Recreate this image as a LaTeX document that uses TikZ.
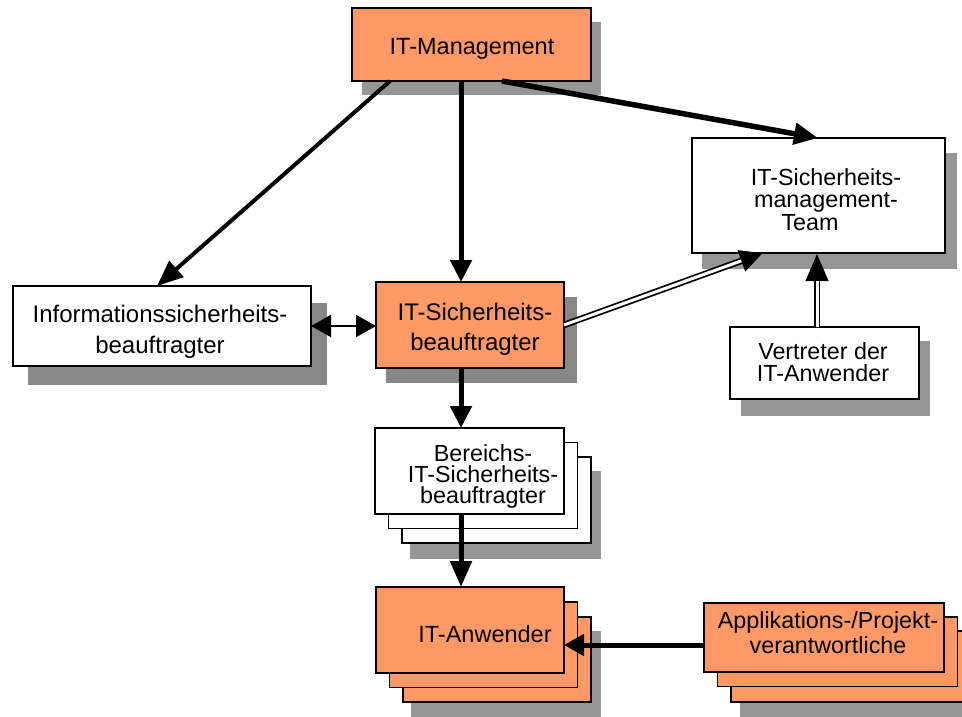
\documentclass[tikz,border=0pt]{standalone}
\usepackage{fontspec}
\setmainfont{Liberation Sans}
\usetikzlibrary{arrows.meta}
\definecolor{boxorange}{HTML}{FF9966}
\definecolor{shade}{HTML}{969696}
\definecolor{shadedark}{HTML}{878787}
% centred multi-line label whose baseline is the first line
\newcommand\boxlines[3]{\parbox[t]{320pt}{\centering\fontsize{#1}{#2}\selectfont #3}}
\tikzset{
  box/.style={draw, line width=1.5pt, inner sep=0pt, outer sep=0pt, fill=white},
  obox/.style={box, fill=boxorange},
  shadowbox/.style={fill=shade},
  txt/.style={anchor=base, inner sep=0pt, font=\fontsize{23.5}{24}\selectfont},
  head/.style={-{Triangle[length=#1,width=21pt]}},
  flow/.style={line width=#1, line cap=butt},
}
\begin{document}
\begin{tikzpicture}[x=1pt,y=-1pt]
\useasboundingbox (0,0) rectangle (962,716);
\clip (0,0) rectangle (962,716);
\fill[white] (0,0) rectangle (962,716);

% drop shadows
\fill[shadowbox] (362,22) rectangle (601,95);
\fill[shadowbox] (702,153) rectangle (957,269);
\fill[shadedark] (28,303) rectangle (327,385);
\fill[shadedark] (386,297) rectangle (577,383);
\fill[shadowbox] (741,341) rectangle (930,416);
\fill[shadowbox] (410,471) rectangle (601,559);
\fill[shadowbox] (411,631) rectangle (601,720);
\fill[shadowbox] (740,645) rectangle (980,718);

% stacked back sheets
\draw[box] (402,457) rectangle (591,543);
\draw[box] (388.5,442.5) rectangle (577.5,528.5);
\draw[obox] (403,617) rectangle (591,702);
\draw[obox] (389.5,602) rectangle (577.5,687.5);
\draw[obox] (731,631) rectangle (971,702);
\draw[obox] (717.5,617) rectangle (957.5,686.5);

% boxes
\node[obox, minimum width=239pt, minimum height=73pt] (mgmt) at (471.5,44.5) {};
\node[box, minimum width=253pt, minimum height=115pt] (team) at (818.5,195.5) {};
\node[box, minimum width=298pt, minimum height=80pt] (info) at (162,326) {};
\node[obox, minimum width=188pt, minimum height=86pt] (its) at (470,325) {};
\node[box, minimum width=189pt, minimum height=72pt] (vert) at (824.5,363) {};
\node[box, minimum width=189pt, minimum height=86pt] (ber) at (469.5,471) {};
\node[obox, minimum width=188pt, minimum height=86pt] (anw) at (470,630) {};
\node[obox, minimum width=240pt, minimum height=69pt] (app) at (824,637.5) {};

% labels
\node[txt] (mgmt-t) at (472,54) {IT-Management};
\node[txt] (team-t) at (826,185) {\boxlines{23.3}{22.5}{IT-Sicherheits-\\management-\\Team\hspace*{32pt}}};
\node[txt] (info-t) at (160,322) {\boxlines{24}{31}{Informationssicherheits-\\beauftragter}};
\node[txt] (its-t) at (475,320) {\boxlines{24}{30}{IT-Sicherheits-\\beauftragter}};
\node[txt] (vert-t) at (823,359) {\boxlines{23.3}{22.5}{Vertreter der\\IT-Anwender}};
\node[txt] (ber-t) at (483,461) {\boxlines{23.3}{21}{Bereichs-\\IT-Sicherheits-\\beauftragter}};
\node[txt] (anw-t) at (485,642) {IT-Anwender};
\node[txt] (app-t) at (828,628) {\boxlines{23.3}{25}{Applikations-/Projekt-\\verantwortliche}};

% reporting lines
\draw[flow=4pt, head=26pt] ([xshift=-81.5pt]mgmt.south) -- ([xshift=-5pt]info.north);
\draw[flow=5pt, head=22pt] ([xshift=-10.5pt]mgmt.south) -- ([xshift=-9pt]its.north);
\draw[flow=5.5pt, head=24pt] ([xshift=30.5pt]mgmt.south) -- ([xshift=-0.5pt]team.north);
\draw[flow=2pt, {Triangle[length=20pt,width=22pt]}-{Triangle[length=20pt,width=22pt]}]
  (info.east) -- (info.east -| its.west);
\draw[flow=5pt, head=22pt] ([xshift=-9pt]its.south) -- ([xshift=-8.5pt]ber.north);
\draw[flow=5pt, head=26pt] ([xshift=-8.5pt]ber.south) -- ([xshift=-9pt]anw.north);
\draw[flow=5pt, head=20pt] ([yshift=-7.5pt]app.west) -- ([yshift=-7.5pt]app.west -| anw.east);

% membership links (double lines)
\draw[flow=6.5pt, head=23pt] (its.east) -- ([xshift=-55.5pt]team.south);
\draw[white, line width=3pt, shorten >=23pt] (its.east) -- ([xshift=-55.5pt]team.south);
\draw[flow=6.5pt, head=28pt] ([xshift=-7.5pt]vert.north) -- ([xshift=-7.5pt]vert.north |- team.south);
\draw[white, line width=3pt, shorten >=28pt] ([xshift=-7.5pt]vert.north) -- ([xshift=-7.5pt]vert.north |- team.south);
\end{tikzpicture}
\end{document}
